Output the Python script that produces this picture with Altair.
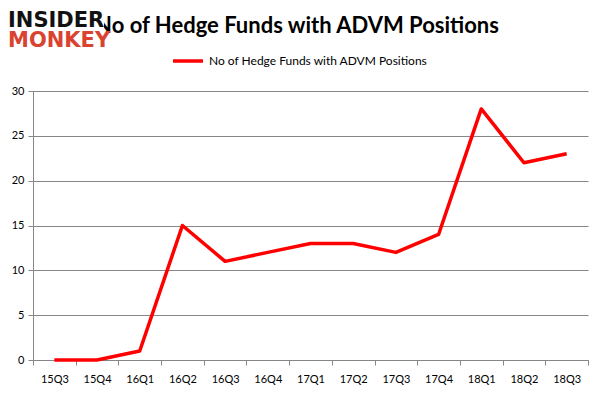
import altair as alt
import pandas as pd

quarters = ["15Q3", "15Q4", "16Q1", "16Q2", "16Q3", "16Q4", "17Q1",
            "17Q2", "17Q3", "17Q4", "18Q1", "18Q2", "18Q3"]
funds = [0, 0, 1, 15, 11, 12, 13, 13, 12, 14, 28, 22, 23]
series_name = "No of Hedge Funds with ADVM Positions"
y_ticks = [0, 5, 10, 15, 20, 25, 30]

df = pd.DataFrame({"quarter": quarters, "funds": funds, "series": series_name})

FONT = "Lato"

line = alt.Chart(df).mark_line(strokeWidth=3.5, strokeJoin="round").encode(
    x=alt.X("quarter:N", sort=quarters, bandPosition=0.5,
            scale=alt.Scale(type="band", paddingInner=0, paddingOuter=0),
            axis=alt.Axis(title=None, labelAngle=0, tickBand="extent", grid=False,
                          domainColor="#868686", tickColor="#868686", tickSize=5,
                          labelPadding=8, labelFontSize=11, labelFont=FONT,
                          labelColor="#000000")),
    y=alt.Y("funds:Q", scale=alt.Scale(domain=[0, 30], nice=False),
            axis=alt.Axis(title=None, values=y_ticks, grid=True, gridColor="#868686",
                          domainColor="#868686", tickColor="#868686", tickSize=5,
                          labelPadding=4, labelFontSize=11, labelFont=FONT,
                          labelColor="#000000")),
    color=alt.Color("series:N", scale=alt.Scale(range=["#ff0000"]),
                    legend=alt.Legend(title=None, orient="none", legendX=138, legendY=-47,
                                      symbolType="stroke", symbolSize=900,
                                      symbolStrokeWidth=3.5, labelFont=FONT,
                                      labelFontSize=12, labelColor="#000000",
                                      labelOffset=4, labelLimit=0)),
)

title = alt.Chart(pd.DataFrame({"t": [series_name]})).mark_text(
    align="center", baseline="alphabetic", font=FONT, fontWeight="bold",
    fontSize=22, color="#000000"
).encode(text="t:N", x=alt.value(264), y=alt.value(-58))

logo_bg = alt.Chart(pd.DataFrame({"k": [0]})).mark_rect(color="#ffffff").encode(
    x=alt.value(-25), x2=alt.value(71), y=alt.value(-86), y2=alt.value(-40))

logo_top = alt.Chart(pd.DataFrame({"t": ["INSIDER"]})).mark_text(
    align="left", baseline="alphabetic", font="DejaVu Sans", fontWeight="bold",
    fontSize=21, color="#111111"
).encode(text="t:N", x=alt.value(-25), y=alt.value(-64))

logo_bot = alt.Chart(pd.DataFrame({"t": ["MONKEY"]})).mark_text(
    align="left", baseline="alphabetic", font="DejaVu Sans", fontWeight="bold",
    fontSize=21, color="#d9432f"
).encode(text="t:N", x=alt.value(-25), y=alt.value(-44))

chart = alt.layer(line, title, logo_bg, logo_top, logo_bot).properties(
    width=555, height=269,
    autosize=alt.AutoSizeParams(type="none"),
    padding={"left": 25, "top": 83, "right": 5, "bottom": 28},
).configure_view(stroke=None)

chart.save("out.html", embed_options={"renderer": "svg", "actions": False})
